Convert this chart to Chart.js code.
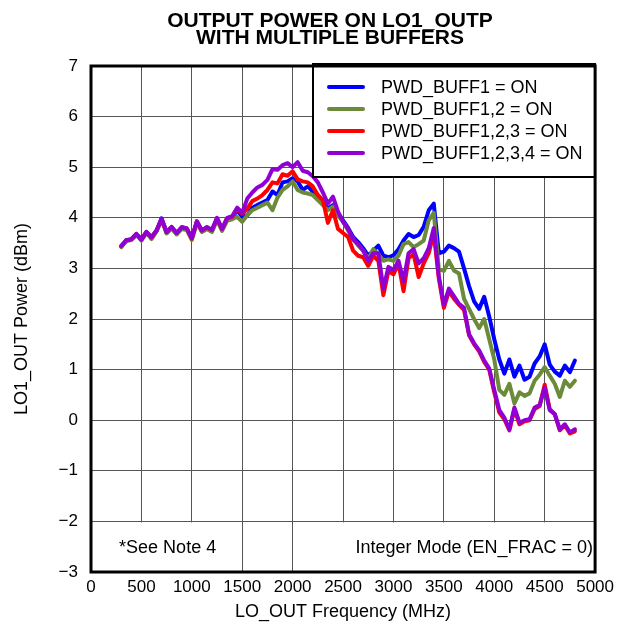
<!DOCTYPE html>
<html>
<head>
<meta charset="utf-8">
<script src="https://cdn.jsdelivr.net/npm/chart.js@4.4.0/dist/chart.umd.min.js"></script>
<style>
  html, body { margin: 0; padding: 0; background: #fff; }
  #wrap { width: 619px; height: 625px; }
</style>
</head>
<body>
<div id="wrap"><canvas id="chart"></canvas></div>
<script>
const titleLines = ['OUTPUT POWER ON LO1_OUTP', 'WITH MULTIPLE BUFFERS'];
const xTitle = 'LO_OUT Frequency (MHz)';
const yTitle = 'LO1_OUT Power (dBm)';
const noteLeft = '*See Note 4';
const noteRight = 'Integer Mode (EN_FRAC = 0)';

const seriesNames = ['PWD_BUFF1 = ON', 'PWD_BUFF1,2 = ON', 'PWD_BUFF1,2,3 = ON', 'PWD_BUFF1,2,3,4 = ON'];
const seriesColors = ['#0000ff', '#6b8a3a', '#ff0000', '#9000d4'];

const freq = [
    300, 350, 400, 450, 500, 550, 600, 650, 700, 750, 800, 850, 900, 950, 1000,
    1050, 1100, 1150, 1200, 1250, 1300, 1350, 1400, 1450, 1500, 1550, 1600, 1650,
    1700, 1750, 1800, 1850, 1900, 1950, 2000, 2050, 2100, 2150, 2200, 2250, 2300,
    2350, 2400, 2450, 2500, 2550, 2600, 2650, 2700, 2750, 2800, 2850, 2900, 2950,
    3000, 3050, 3100, 3150, 3200, 3250, 3300, 3350, 3400, 3450, 3500, 3550, 3600,
    3650, 3700, 3750, 3800, 3850, 3900, 3950, 4000, 4050, 4100, 4150, 4200, 4250,
    4300, 4350, 4400, 4450, 4500, 4550, 4600, 4650, 4700, 4750, 4800
];

const buff1 = [
    3.43, 3.56, 3.57, 3.67, 3.58, 3.71, 3.60, 3.74, 3.99, 3.70, 3.80, 3.68, 3.80, 3.77, 3.60,
    3.92, 3.73, 3.80, 3.74, 3.97, 3.76, 3.96, 4.00, 4.15, 4.02, 4.05, 4.20, 4.25,
    4.30, 4.35, 4.52, 4.45, 4.70, 4.72, 4.78, 4.72, 4.55, 4.62, 4.52, 4.40, 4.30,
    4.18, 4.25, 4.10, 3.95, 3.80, 3.62, 3.52, 3.40, 3.25, 3.35, 3.45, 3.25, 3.22,
    3.26, 3.38, 3.55, 3.68, 3.62, 3.66, 3.82, 4.15, 4.28, 3.30, 3.33, 3.45, 3.40,
    3.33, 3.00, 2.65, 2.35, 2.20, 2.44, 2.05, 1.60, 1.20, 0.92, 1.20, 0.86, 1.08,
    0.80, 0.86, 1.12, 1.26, 1.50, 1.10, 0.96, 0.88, 1.08, 0.95, 1.18
];

const buff12 = [
    3.42, 3.54, 3.56, 3.66, 3.55, 3.70, 3.58, 3.73, 3.96, 3.69, 3.79, 3.67, 3.78, 3.76, 3.56,
    3.90, 3.72, 3.78, 3.72, 3.96, 3.74, 3.94, 3.97, 4.02, 3.92, 4.05, 4.15, 4.20,
    4.25, 4.30, 4.15, 4.40, 4.55, 4.62, 4.72, 4.55, 4.50, 4.48, 4.45, 4.35, 4.25,
    4.15, 4.22, 4.05, 3.92, 3.75, 3.58, 3.45, 3.35, 3.18, 3.38, 3.28, 3.15, 3.18,
    3.15, 3.25, 3.48, 3.52, 3.42, 3.48, 3.55, 3.95, 4.10, 2.98, 2.95, 3.15, 2.96,
    2.90, 2.40, 2.20, 2.00, 1.82, 2.00, 1.60, 1.20, 0.60, 0.50, 0.72, 0.33, 0.55,
    0.48, 0.53, 0.78, 0.90, 1.05, 0.88, 0.72, 0.46, 0.78, 0.66, 0.78
];

const buff123 = [
    3.44, 3.55, 3.58, 3.68, 3.57, 3.72, 3.61, 3.75, 3.97, 3.72, 3.82, 3.70, 3.81, 3.79, 3.59,
    3.93, 3.75, 3.81, 3.76, 3.99, 3.78, 3.99, 4.02, 4.18, 4.08, 4.18, 4.33, 4.38,
    4.45, 4.55, 4.70, 4.68, 4.86, 4.83, 4.92, 4.76, 4.72, 4.70, 4.62, 4.45, 4.35,
    3.90, 4.15, 3.78, 3.70, 3.62, 3.35, 3.25, 3.22, 3.05, 3.25, 3.15, 2.47, 2.95,
    2.88, 3.10, 2.55, 3.20, 3.28, 2.83, 3.10, 3.30, 3.70, 2.80, 2.22, 2.55, 2.40,
    2.28, 2.18, 1.68, 1.50, 1.36, 1.15, 1.00, 0.55, 0.15, 0.02, -0.20, 0.22, -0.08,
    -0.02, 0.00, 0.22, 0.28, 0.70, 0.22, 0.12, -0.20, -0.10, -0.26, -0.22
];

const buff1234 = [
    3.45, 3.55, 3.58, 3.68, 3.57, 3.72, 3.62, 3.75, 3.98, 3.72, 3.82, 3.70, 3.82, 3.79, 3.60,
    3.93, 3.75, 3.82, 3.76, 4.00, 3.78, 4.00, 4.03, 4.20, 4.10, 4.38, 4.50, 4.60,
    4.65, 4.75, 4.96, 4.95, 5.04, 5.08, 5.00, 5.10, 4.93, 4.90, 4.82, 4.70, 4.50,
    4.28, 4.42, 4.12, 3.92, 3.78, 3.57, 3.48, 3.35, 3.15, 3.30, 3.30, 2.60, 3.03,
    2.97, 3.15, 2.75, 3.30, 3.38, 3.10, 3.20, 3.40, 3.80, 2.85, 2.28, 2.60, 2.45,
    2.30, 2.22, 1.70, 1.52, 1.38, 1.18, 1.02, 0.60, 0.20, 0.05, -0.18, 0.25, -0.05,
    0.00, 0.02, 0.25, 0.30, 0.64, 0.20, 0.12, -0.18, -0.08, -0.24, -0.18
];

const seriesValues = [buff1, buff12, buff123, buff1234];
const xTicks = [0, 500, 1000, 1500, 2000, 2500, 3000, 3500, 4000, 4500, 5000];
const yTicks = [-3, -2, -1, 0, 1, 2, 3, 4, 5, 6, 7];

const FONT = 'Arial, "Liberation Sans", Helvetica, sans-serif';

const datasets = seriesValues.map((vals, i) => ({
    label: seriesNames[i],
    data: vals.map((v, k) => ({ x: freq[k], y: v })),
    borderColor: seriesColors[i],
    backgroundColor: seriesColors[i],
    borderWidth: 4,
    pointRadius: 0,
    tension: 0,
    borderJoinStyle: 'round',
    borderCapStyle: 'round',
    order: seriesValues.length - i,
}));

// title, notes, frame and the boxed legend
const decorations = {
    id: 'decorations',
    beforeDatasetsDraw(chart) {
        const { ctx, scales } = chart;
        const xs = scales.x, ys = scales.y;
        const top = ys.getPixelForValue(-2) + 1;
        const bottom = ys.getPixelForValue(-3) - 1;
        ctx.save();
        ctx.fillStyle = '#fff';
        ctx.fillRect(xs.getPixelForValue(90), top, xs.getPixelForValue(1450) - xs.getPixelForValue(90), bottom - top);
        ctx.fillRect(xs.getPixelForValue(2360), top, xs.getPixelForValue(5000) - xs.getPixelForValue(2360), bottom - top);
        ctx.fillStyle = '#000';
        ctx.font = '18px ' + FONT;
        ctx.textBaseline = 'middle';
        ctx.textAlign = 'center';
        ctx.fillText(noteLeft, xs.getPixelForValue(760), (top + bottom) / 2 + 1);
        ctx.textAlign = 'right';
        ctx.fillText(noteRight, xs.getPixelForValue(4980), (top + bottom) / 2 + 1);
        ctx.restore();
    },
    afterDatasetsDraw(chart) {
        const { ctx, chartArea: a } = chart;
        ctx.save();
        // title
        ctx.fillStyle = '#000';
        ctx.font = 'bold 21px ' + FONT;
        ctx.textAlign = 'center';
        ctx.textBaseline = 'alphabetic';
        ctx.fillText(titleLines[0], 330, 27);
        ctx.fillText(titleLines[1], 330, 44);

        // legend box
        const lx = 313, ly = 64, lw = a.right - 313, lh = 113;
        ctx.fillStyle = '#fff';
        ctx.fillRect(lx, ly, lw, lh);
        ctx.lineWidth = 2;
        ctx.strokeStyle = '#000';
        ctx.strokeRect(lx, ly, lw, lh);
        const rows = [87, 109, 131, 153];
        ctx.font = '18px ' + FONT;
        ctx.textAlign = 'left';
        ctx.textBaseline = 'middle';
        chart.data.datasets.forEach((ds, i) => {
            ctx.strokeStyle = ds.borderColor;
            ctx.lineWidth = 4;
            ctx.lineCap = 'round';
            ctx.beginPath();
            ctx.moveTo(329, rows[i]);
            ctx.lineTo(363, rows[i]);
            ctx.stroke();
            ctx.fillStyle = '#000';
            ctx.fillText(ds.label, 381, rows[i] + 1);
        });

        // plot frame
        ctx.lineWidth = 3;
        ctx.lineCap = 'butt';
        ctx.strokeStyle = '#000';
        ctx.strokeRect(a.left, a.top, a.right - a.left, a.bottom - a.top);
        ctx.restore();
    },
};

new Chart(document.getElementById('chart'), {
    type: 'line',
    data: { datasets: datasets },
    options: {
        responsive: true,
        maintainAspectRatio: false,
        animation: false,
        layout: { padding: { top: 66, right: 22, left: 0, bottom: 0 } },
        plugins: {
            legend: { display: false },
            tooltip: { enabled: false },
        },
        scales: {
            x: {
                type: 'linear',
                min: 0,
                max: 5000,
                afterFit(scale) { scale.height = 53; },
                afterBuildTicks(scale) { scale.ticks = xTicks.map((v) => ({ value: v })); },
                grid: { color: '#555', lineWidth: 1, drawTicks: false },
                border: { display: false },
                ticks: {
                    color: '#000',
                    font: { family: FONT, size: 17 },
                    padding: 5,
                    maxRotation: 0,
                    autoSkip: false,
                    callback: (v) => String(v),
                },
                title: {
                    display: true,
                    text: xTitle,
                    color: '#000',
                    font: { family: FONT, size: 18 },
                    padding: { top: 0, bottom: 2 },
                },
            },
            y: {
                type: 'linear',
                min: -3,
                max: 7,
                afterFit(scale) { scale.width = 91; },
                afterBuildTicks(scale) { scale.ticks = yTicks.map((v) => ({ value: v })); },
                grid: { color: '#555', lineWidth: 1, drawTicks: false },
                border: { display: false },
                ticks: {
                    color: '#000',
                    font: { family: FONT, size: 17 },
                    padding: 13,
                    autoSkip: false,
                    callback: (v) => String(v).replace('-', '\u2212'),
                },
                title: {
                    display: true,
                    text: yTitle,
                    color: '#000',
                    font: { family: FONT, size: 18 },
                    padding: { top: 11, bottom: 0 },
                },
            },
        },
    },
    plugins: [decorations],
});
</script>
</body>
</html>
